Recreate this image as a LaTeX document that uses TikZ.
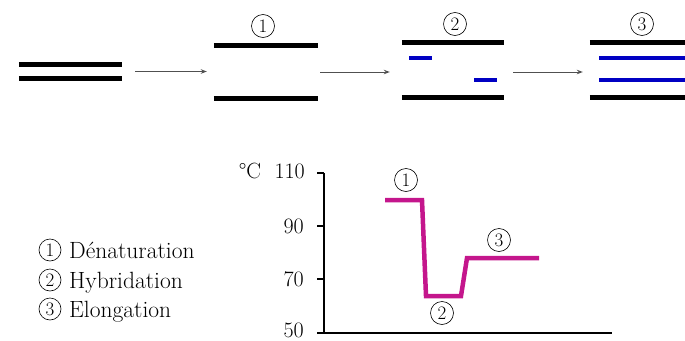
\documentclass[tikz,border=0pt]{standalone}
\usepackage{fontspec}
\usetikzlibrary{arrows.meta}
\definecolor{dnablue}{RGB}{0,0,195}
\definecolor{curvemag}{RGB}{196,22,140}
\definecolor{arrgray}{RGB}{80,80,80}
\tikzset{
  strand/.style={line width=5pt},
  primer/.style={line width=4pt, dnablue},
  grp/.style={inner sep=0pt},
  arr/.style={arrgray, line width=1pt, -{Stealth[length=6pt,width=4.5pt]}},
  cnum/.style={circle, draw, line width=0.6pt, inner sep=0pt, minimum size=23pt, font=\fontsize{19}{19}\selectfont},
  lab/.style={font=\fontsize{22}{22}\selectfont, inner sep=0pt},
  leg/.style={font=\fontsize{23.5}{23.5}\selectfont, inner sep=0pt},
  axisline/.style={line width=1.2pt},
  temp/.style={curvemag, line width=4.5pt, line join=miter}
}
\begin{document}
\begin{tikzpicture}[x=1pt,y=-1pt]
\useasboundingbox (0,0) rectangle (685,340);

% strand groups
\node[grp, minimum width=103pt, minimum height=13pt] (g0) at (70.5,71.5) {};
\node[grp, minimum width=104pt, minimum height=52pt] (g1) at (266,72) {};
\node[grp, minimum width=102pt, minimum height=54pt] (g2) at (453,70) {};
\node[grp, minimum width=95pt, minimum height=54pt] (g3) at (637.5,70) {};

\foreach \g in {g0,g1,g2,g3}{
  \draw[strand] (\g.north west) -- (\g.north east);
  \draw[strand] (\g.south west) -- (\g.south east);
}
\draw[primer] (409,58) -- (432,58);
\draw[primer] (474,80) -- (497,80);
\draw[primer] (599,58) -- (685,58);
\draw[primer] (599,80) -- (685,80);

\node[cnum] (s1) at (263,26) {1};
\node[cnum] (s2) at (455,24) {2};
\node[cnum] (s3) at (642,24) {3};

\draw[arr] ([xshift=13pt]g0.east) -- ([xshift=-7pt]g0.east -| g1.west);
\draw[arr] ([xshift=2pt]g1.east) -- ([xshift=-12pt]g1.east -| g2.west);
\draw[arr] ([xshift=9pt]g2.east |- g1.east) -- ([xshift=-7pt]g1.east -| g3.west);

% chart
\coordinate (top) at (324,173);
\coordinate (o) at (324,333);
\coordinate (xend) at (612,333);
\draw[axisline] (top) -- (o) -- (xend);
\foreach \yy/\t in {173/110,226/90,279/70,333/50}{
  \draw[axisline] (317,\yy) -- (324,\yy);
}
\node[lab, anchor=east] (t110) at (305,171) {110};
\node[lab, anchor=east] (t90) at (304,226) {90};
\node[lab, anchor=east] (t70) at (304,279) {70};
\node[lab, anchor=east] (t50) at (304,330) {50};
\node[lab] (unit) at (250,171) {°C};

\draw[temp] (385,200) -- (422,200) -- (426,296) -- (461,296) -- (467,258) -- (539,258);
\node[cnum] (c1) at (406,180) {1};
\node[cnum] (c2) at (442,313) {2};
\node[cnum] (c3) at (499,240) {3};

% legend
\node[cnum, minimum size=22pt] (l1) at (50,250) {1};
\node[cnum, minimum size=22pt] (l2) at (50,280) {2};
\node[cnum, minimum size=22pt] (l3) at (50,309) {3};
\node[leg, anchor=base west] (d1) at (69,258) {Dénaturation};
\node[leg, anchor=base west] (d2) at (69,288) {Hybridation};
\node[leg, anchor=base west] (d3) at (69,317) {Elongation};
\end{tikzpicture}
\end{document}
